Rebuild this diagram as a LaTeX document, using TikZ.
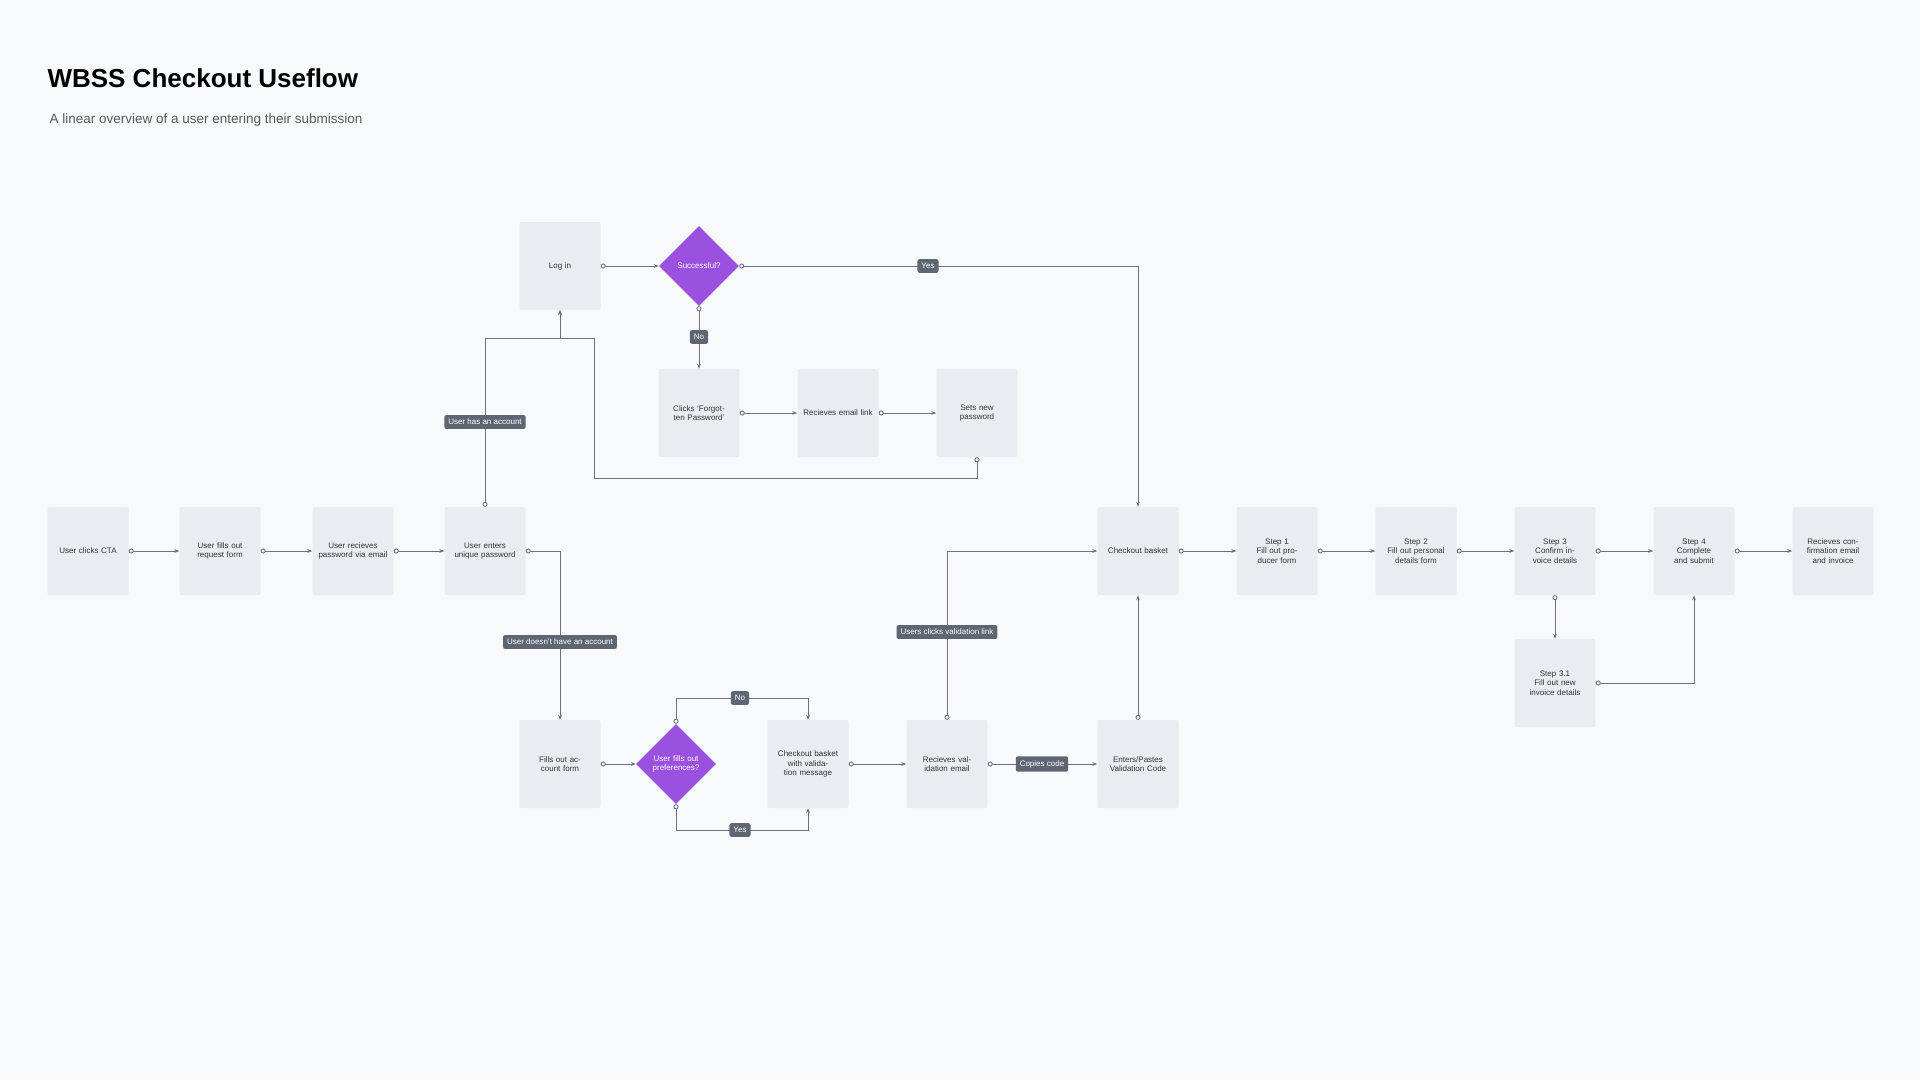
\documentclass[tikz,border=0pt]{standalone}
\usepackage{fontspec}
\setmainfont{Liberation Sans}
\usetikzlibrary{shapes.geometric,arrows.meta}
\definecolor{bgc}{HTML}{F8F9FA}
\definecolor{boxc}{HTML}{E9ECF1}
\definecolor{purp}{HTML}{9B51E0}
\definecolor{tagc}{HTML}{5F6673}
\definecolor{linec}{HTML}{6B7280}
\tikzset{
  stepbox/.style={fill=boxc, rounded corners=2pt, minimum width=81pt, minimum height=88pt,
    text width=70pt, align=center, font=\fontsize{8}{9.5}\selectfont, text=black!80},
  decide/.style={diamond, fill=purp, minimum width=80pt, minimum height=80pt, inner sep=0pt,
    text width=52pt, align=center, font=\fontsize{8}{9.5}\selectfont, text=white},
  tag/.style={fill=tagc, rounded corners=2pt, text=white, font=\fontsize{8}{9.5}\selectfont,
    inner sep=4pt},
  flow/.style={draw=linec, line width=0.9pt, {Circle[open,fill=white,length=5pt]}-{Stealth[length=5pt]}},
}
\begin{document}
\begin{tikzpicture}[x=1pt,y=-1pt]
  \fill[bgc] (0,0) rectangle (1920,1080);
  \node[anchor=west, font=\bfseries\fontsize{26}{30}\selectfont] (title) at (44,78) {WBSS Checkout Useflow};
  \node[anchor=west, font=\fontsize{13.5}{16}\selectfont, text=black!65] (sub) at (46,120) {A linear overview of a user entering their submission};

  % main row
  \node[stepbox] (cta) at (88,551) {User clicks CTA};
  \node[stepbox] (req) at (220,551) {User fills out request form};
  \node[stepbox] (pwd) at (353,551) {User recieves password via email};
  \node[stepbox] (uniq) at (485,551) {User enters unique password};
  \node[stepbox] (basket) at (1138,551) {Checkout basket};
  \node[stepbox] (s1) at (1277,551) {Step 1\\Fill out producer form};
  \node[stepbox] (s2) at (1416,551) {Step 2\\Fill out personal details form};
  \node[stepbox] (s3) at (1555,551) {Step 3\\Confirm invoice details};
  \node[stepbox] (s4) at (1694,551) {Step 4\\Complete and submit};
  \node[stepbox] (conf) at (1833,551) {Recieves confirmation email and invoice};
  \node[stepbox] (s31) at (1555,683) {Step 3.1\\Fill out new invoice details};

  % login branch
  \node[stepbox] (login) at (560,266) {Log in};
  \node[decide] (ok) at (699,266) {Successful?};
  \node[stepbox] (forgot) at (699,413) {Clicks `Forgotten Password'};
  \node[stepbox] (link) at (838,413) {Recieves email link};
  \node[stepbox] (newpw) at (977,413) {Sets new password};

  % account branch
  \node[stepbox] (acct) at (560,764) {Fills out account form};
  \node[decide] (pref) at (676,764) {User fills out preferences?};
  \node[stepbox] (valmsg) at (808,764) {Checkout basket with validation message};
  \node[stepbox] (valmail) at (947,764) {Recieves validation email};
  \node[stepbox] (code) at (1138,764) {Enters/Pastes Validation Code};

  % connectors
  \draw[flow] (cta) -- (req);
  \draw[flow] (req) -- (pwd);
  \draw[flow] (pwd) -- (uniq);
  \draw[flow] (basket) -- (s1);
  \draw[flow] (s1) -- (s2);
  \draw[flow] (s2) -- (s3);
  \draw[flow] (s3) -- (s4);
  \draw[flow] (s4) -- (conf);
  \draw[flow] (s3.south) -- (s31.north);
  \draw[flow] (s31.east) -| (s4.south);
  \draw[flow] (uniq.north) |- (560,338) -- (login.south);
  \draw[flow] (newpw.south) -- (977,478) -| (594,338) -| (login.south);
  \draw[flow] (login) -- (ok);
  \draw[flow] (ok.east) -| (basket.north);
  \draw[flow] (ok.south) -- (forgot.north);
  \draw[flow] (forgot) -- (link);
  \draw[flow] (link) -- (newpw);
  \draw[flow] (uniq.east) -| (acct.north);
  \draw[flow] (acct) -- (pref);
  \draw[flow] (pref.north) |- (740,698) -| (valmsg.north);
  \draw[flow] (pref.south) |- (740,830) -| (valmsg.south);
  \draw[flow] (valmsg) -- (valmail);
  \draw[flow] (valmail) -- (code);
  \draw[flow] (valmail.north) |- (basket.west);
  \draw[flow] (code.north) -- (basket.south);

  % labels
  \node[tag] (tyes) at (928,266) {Yes};
  \node[tag] (tno) at (699,337) {No};
  \node[tag] (thas) at (485,422) {User has an account};
  \node[tag] (tnot) at (560,642) {User doesn't have an account};
  \node[tag] (tclick) at (947,632) {Users clicks validation link};
  \node[tag] (tno2) at (740,698) {No};
  \node[tag] (tyes2) at (740,830) {Yes};
  \node[tag] (tcopy) at (1042,764) {Copies code};
\end{tikzpicture}
\end{document}
